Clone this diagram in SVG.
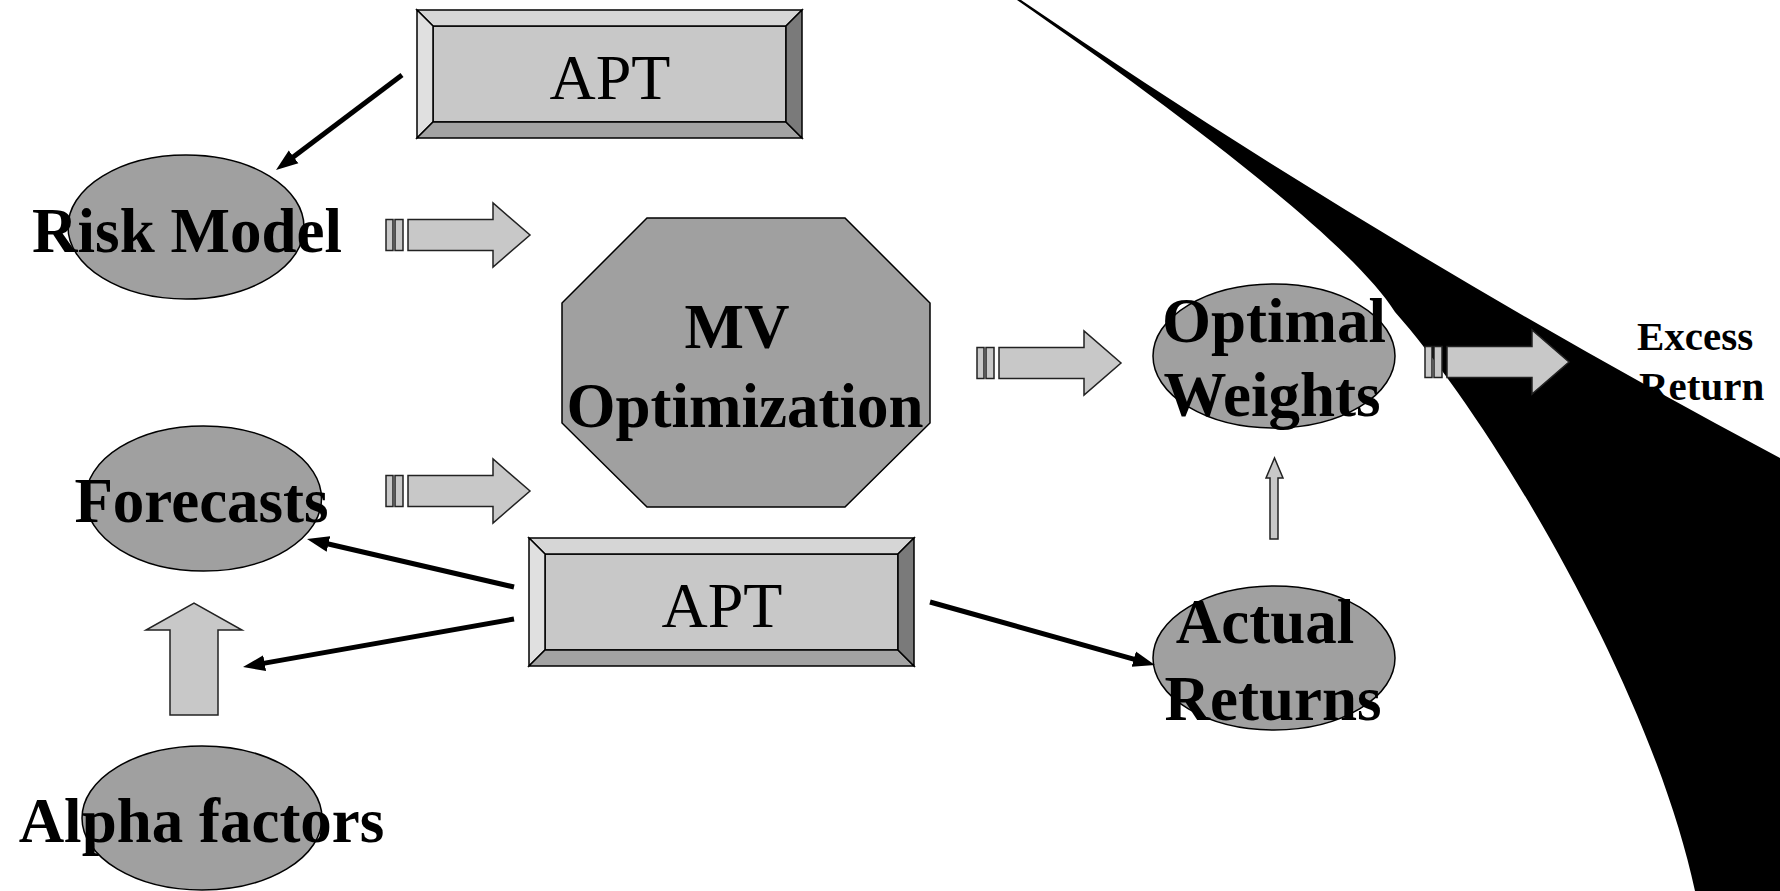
<svg xmlns="http://www.w3.org/2000/svg" xmlns:xlink="http://www.w3.org/1999/xlink" width="1780" height="891" viewBox="0 0 1780 891">
<style>
.ell{fill:#a0a0a0;stroke:#000;stroke-width:1.5}
.oct{fill:#a0a0a0;stroke:#000;stroke-width:1.5}
.lbl{font-family:"Liberation Serif","Times New Roman",serif;font-weight:bold;font-size:63px;fill:#000;text-anchor:middle}
.apt{font-family:"Liberation Serif","Times New Roman",serif;font-size:64px;fill:#000;text-anchor:middle}
.small{font-family:"Liberation Serif","Times New Roman",serif;font-weight:bold;font-size:41px;fill:#000}
.conn{stroke:#000;stroke-width:5;fill:none;marker-end:url(#ah)}
.blk{fill:#c8c8c8;stroke:#222;stroke-width:1.5}
.bv{stroke:#000;stroke-width:1.5}
</style>
<defs>
<marker id="ah" markerUnits="userSpaceOnUse" viewBox="0 0 22 18" markerWidth="22" markerHeight="18" refX="10" refY="9" orient="auto">
<path d="M0,1 L22,9 L0,17 Z" fill="#000"/>
</marker>
<g id="bevelbox">
<rect x="16" y="16" width="353" height="96" fill="#c8c8c8" class="bv"/>
<polygon points="0,0 385,0 369,16 16,16" fill="#d6d6d6" class="bv"/>
<polygon points="0,0 16,16 16,112 0,128" fill="#e0e0e0" class="bv"/>
<polygon points="0,128 16,112 369,112 385,128" fill="#a3a3a3" class="bv"/>
<polygon points="385,0 385,128 369,112 369,16" fill="#7a7a7a" class="bv"/>
</g>
<g id="blockarrow">
<rect x="0" y="-15.5" width="7" height="31" class="blk"/>
<rect x="9" y="-15.5" width="8" height="31" class="blk"/>
<polygon points="22,-15.5 107,-15.5 107,-32 144,0 107,32 107,15.5 22,15.5" class="blk"/>
</g>
</defs>
<rect width="1780" height="891" fill="#fff"/>

<g id="apt-top">
<use xlink:href="#bevelbox" x="417" y="10"/>
<text class="apt" x="610" y="99">APT</text>
</g>

<g id="risk-model">
<ellipse class="ell" cx="186" cy="227" rx="118" ry="72"/>
<text class="lbl" x="187" y="252">Risk Model</text>
</g>

<g id="mv-optimization">
<polygon class="oct" points="647,218 845,218 930,303 930,423 845,507 647,507 562,423 562,303"/>
<text class="lbl" x="737" y="348">MV</text>
<text class="lbl" x="745" y="427">Optimization</text>
</g>

<g id="forecasts">
<ellipse class="ell" cx="203.5" cy="498.5" rx="118" ry="72.5"/>
<text class="lbl" x="201.5" y="522">Forecasts</text>
</g>

<g id="apt-bottom">
<use xlink:href="#bevelbox" x="529" y="538"/>
<text class="apt" x="722" y="627">APT</text>
</g>

<g id="alpha-factors">
<ellipse class="ell" cx="202" cy="818" rx="120" ry="72"/>
<text class="lbl" x="201.5" y="842">Alpha factors</text>
</g>

<g id="optimal-weights">
<ellipse class="ell" cx="1274" cy="356" rx="121" ry="72"/>
<text class="lbl" x="1274" y="342">Optimal</text>
<text class="lbl" x="1272" y="416">Weights</text>
</g>

<g id="actual-returns">
<ellipse class="ell" cx="1274" cy="658" rx="121" ry="72"/>
<text class="lbl" x="1265" y="643">Actual</text>
<text class="lbl" x="1273" y="720">Returns</text>
</g>

<g id="excess-return">
<text class="small" x="1637" y="350">Excess</text>
<text class="small" x="1639" y="400">Return</text>
</g>

<path id="black-curve" d="M1017,0 L1021,0 Q1380,245 1780,458 L1780,891 L1695,891 C1652,690 1495,425 1395,312 C1350,240 1168,105 1017,0 Z" fill="#000"/>

<g id="connectors">
<line class="conn" x1="402" y1="75" x2="285.6" y2="162.8"/>
<line class="conn" x1="514" y1="587" x2="318.7" y2="541.7"/>
<line class="conn" x1="514" y1="619" x2="254.8" y2="664.9"/>
<line class="conn" x1="930" y1="602" x2="1143.4" y2="661.8"/>
<use xlink:href="#blockarrow" transform="translate(386,235)"/>
<use xlink:href="#blockarrow" transform="translate(386,491)"/>
<use xlink:href="#blockarrow" transform="translate(977,363)"/>
<use xlink:href="#blockarrow" transform="translate(1425,362)"/>
<polygon class="blk" points="170,715 170,630 146,630 194,603 242,630 218,630 218,715"/>
<polygon class="blk" points="1270,539 1270,478 1266,478 1274.5,458 1283,478 1278,478 1278,539"/>
</g>
</svg>
